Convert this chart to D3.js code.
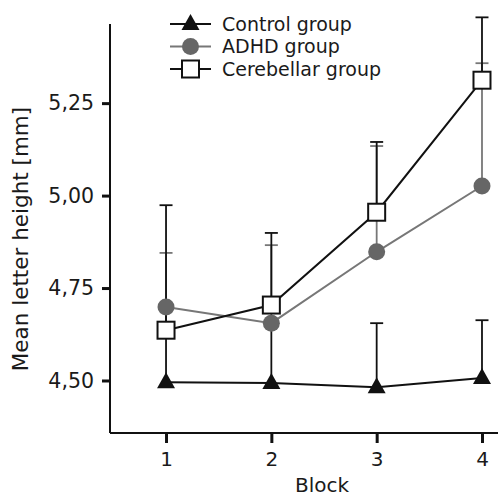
<!DOCTYPE html>
<html lang="en">
<head>
    <meta charset="UTF-8">
    <title>Mean letter height</title>
    <script src="https://d3js.org/d3.v7.min.js"></script>
    <style>
        body { margin: 0; background: #fff; }
        text { font-family: "DejaVu Sans", Verdana, sans-serif; fill: #1a1a1a; }
    </style>
</head>
<body>
<svg width="498" height="497"></svg>
<script>
    const width = 498;
    const height = 497;

    // data
    const blocks = [1, 2, 3, 4];
    const control = [4.495, 4.493, 4.482, 4.507];
    const controlErr = [0.205, 0.16, 0.173, 0.156];
    const adhd = [4.699, 4.655, 4.848, 5.026];
    const adhdErr = [0.146, 0.211, 0.286, 0.332];
    const cerebellar = [4.636, 4.704, 4.955, 5.312];
    const cerebellarErr = [0.338, 0.195, 0.19, 0.17];
    const yTicks = [4.50, 4.75, 5.00, 5.25];
    const groupNames = ["Control group", "ADHD group", "Cerebellar group"];

    const svg = d3.select('svg')
        .attr('width', width)
        .attr('height', height);

    const x = d3.scaleLinear().domain([0.468, 4.152]).range([110, 498]);
    const y = d3.scaleLinear().domain([4.358, 5.464]).range([433, 24]);

    const fmt = d => d3.format(".2f")(d).replace(".", ",");

    // y axis
    const yAxis = svg.append("g")
        .attr("transform", "translate(110,0)")
        .call(d3.axisLeft(y).tickValues(yTicks).tickFormat(fmt).tickSize(8).tickPadding(8));
    yAxis.select(".domain").attr("d", `M0,${y.range()[1]}V${y.range()[0]}`).attr("stroke", "#111").attr("stroke-width", 2);
    yAxis.selectAll(".tick line").attr("stroke", "#111").attr("stroke-width", 3);
    yAxis.selectAll(".tick text").style("font-size", "20.5px").attr("fill", "#1a1a1a");

    // x axis
    const xAxis = svg.append("g")
        .attr("transform", "translate(0,433)")
        .call(d3.axisBottom(x).tickValues(blocks).tickFormat(d3.format("d")).tickSize(10).tickPadding(9));
    xAxis.select(".domain").attr("d", `M${x.range()[0]},0H${x.range()[1]}`).attr("stroke", "#111").attr("stroke-width", 2);
    xAxis.selectAll(".tick line").attr("stroke", "#111").attr("stroke-width", 3);
    xAxis.selectAll(".tick text").style("font-size", "20px").attr("fill", "#1a1a1a");

    // axis titles
    svg.append("text")
        .attr("x", (x(2) + x(3)) / 2 - 2)
        .attr("y", 492)
        .attr("text-anchor", "middle")
        .style("font-size", "20px")
        .text("Block");

    svg.append("text")
        .attr("transform", "translate(28,239) rotate(-90)")
        .attr("text-anchor", "middle")
        .style("font-size", "21.5px")
        .text("Mean letter height [mm]");

    const series = [
        {name: groupNames[0], values: control, err: controlErr, color: "#111", marker: "triangle"},
        {name: groupNames[1], values: adhd, err: adhdErr, color: "#777", marker: "circle"},
        {name: groupNames[2], values: cerebellar, err: cerebellarErr, color: "#111", marker: "square"}
    ];
    const drawOrder = [series[1], series[0], series[2]];

    // error bars (upper only)
    drawOrder.forEach(function(s) {
        const g = svg.append("g").attr("stroke", s.color).attr("stroke-width", 1.8);
        blocks.forEach(function(b, i) {
            const top = s.values[i] + s.err[i];
            g.append("line")
                .attr("x1", x(b)).attr("x2", x(b))
                .attr("y1", y(s.values[i])).attr("y2", y(top));
            g.append("line")
                .attr("x1", x(b) - 6.5).attr("x2", x(b) + 6.5)
                .attr("y1", y(top)).attr("y2", y(top));
        });
    });

    // lines
    const line = d3.line().x((d, i) => x(blocks[i])).y(d => y(d));
    drawOrder.forEach(function(s) {
        svg.append("path")
            .attr("d", line(s.values))
            .attr("fill", "none")
            .attr("stroke", s.color)
            .attr("stroke-width", 2);
    });

    function drawMarker(g, type, cx, cy) {
        if (type === "triangle") {
            g.append("path")
                .attr("d", `M${cx},${cy - 10}L${cx + 9},${cy + 6}L${cx - 9},${cy + 6}Z`)
                .attr("fill", "#111");
        } else if (type === "circle") {
            g.append("circle")
                .attr("cx", cx).attr("cy", cy).attr("r", 8.5)
                .attr("fill", "#666");
        } else {
            g.append("rect")
                .attr("x", cx - 8.5).attr("y", cy - 8.5)
                .attr("width", 17).attr("height", 17)
                .attr("fill", "#fff").attr("stroke", "#111").attr("stroke-width", 2);
        }
    }

    // markers
    drawOrder.forEach(function(s) {
        const g = svg.append("g");
        blocks.forEach(function(b, i) {
            drawMarker(g, s.marker, x(b), y(s.values[i]));
        });
    });

    // legend
    const legend = svg.append("g");
    series.forEach(function(s, i) {
        const ly = 24 + i * 22.5;
        legend.append("line")
            .attr("x1", 170).attr("x2", 211)
            .attr("y1", ly).attr("y2", ly)
            .attr("stroke", s.color).attr("stroke-width", 2);
        drawMarker(legend, s.marker, 190.5, ly);
        legend.append("text")
            .attr("x", 222)
            .attr("y", ly + 6.5)
            .style("font-size", "19px")
            .text(s.name);
    });
</script>
</body>
</html>
